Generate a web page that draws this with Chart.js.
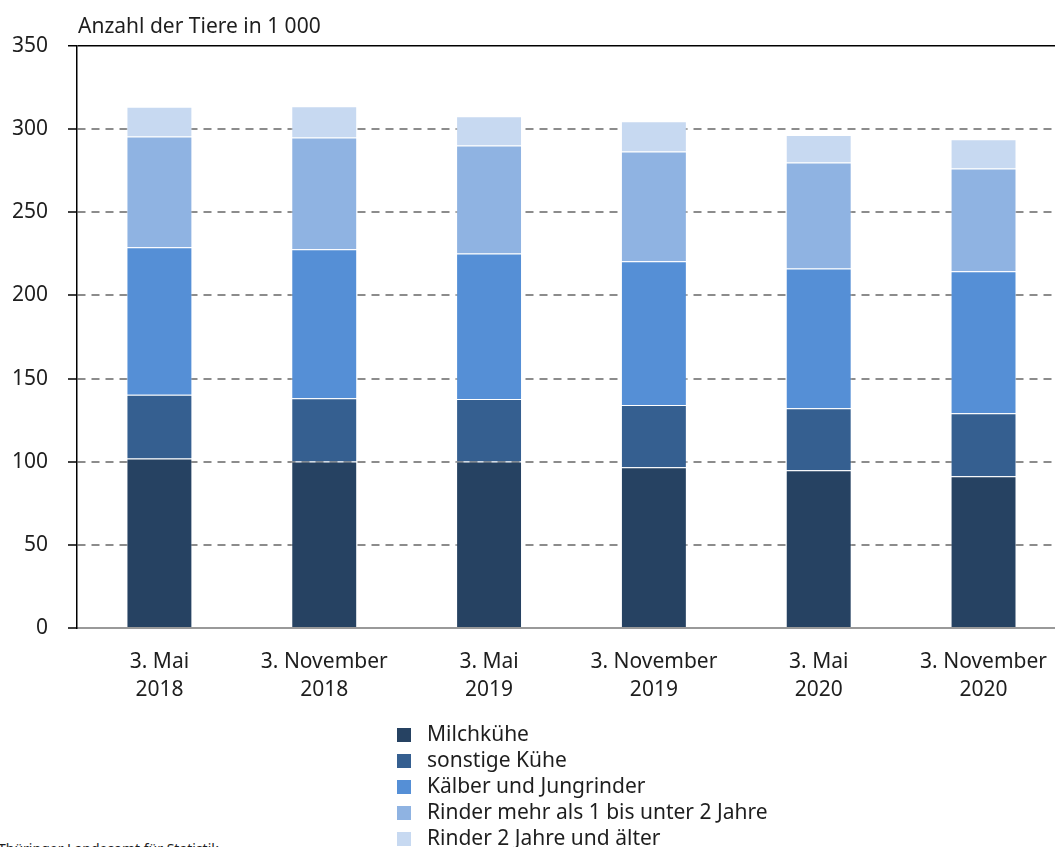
<!DOCTYPE html>
<html lang="de">
<head>
    <meta charset="UTF-8">
    <title>Rinderbestand</title>
    <script src="https://cdn.jsdelivr.net/npm/chart.js"></script>
    <style>
        body {
            margin: 0;
            width: 1055px;
            height: 847px;
            overflow: hidden;
            background: #fff;
            font-family: "Noto Sans", sans-serif;
            color: #1e1e1e;
            position: relative;
        }
        #chartBox {
            position: absolute;
            left: 0;
            top: 0;
            width: 1067px;
            height: 720px;
        }
        #legend {
            position: absolute;
            left: 397px;
            top: 720px;
            font-size: 21px;
        }
        .item {
            height: 26px;
            line-height: 26px;
            white-space: nowrap;
        }
        .box {
            display: inline-block;
            width: 14px;
            height: 14px;
            margin-right: 16px;
            vertical-align: -1px;
        }
        #source {
            position: absolute;
            left: -2px;
            top: 839px;
            font-size: 14px;
            white-space: nowrap;
        }
    </style>
</head>
<body>
    <div id="chartBox"><canvas id="chartCanvas"></canvas></div>
    <div id="legend"></div>
    <div id="source">Thüringer Landesamt für Statistik</div>

    <script>
        // Daten (in 1 000 Tieren)
        const categories = [
            ["3. Mai", "2018"], ["3. November", "2018"],
            ["3. Mai", "2019"], ["3. November", "2019"],
            ["3. Mai", "2020"], ["3. November", "2020"]
        ];
        const seriesNames = [
            "Milchkühe",
            "sonstige Kühe",
            "Kälber und Jungrinder",
            "Rinder mehr als 1 bis unter 2 Jahre",
            "Rinder 2 Jahre und älter"
        ];
        const milchkuehe = [102, 100.2, 100.2, 96.6, 94.8, 91.2];
        const sonstigeKuehe = [38.3, 38, 37.5, 37.5, 37.4, 38];
        const kaelber = [88.7, 89.5, 87.5, 86.4, 84, 85.3];
        const rinder1bis2 = [66.6, 67.2, 65, 66, 63.7, 61.8];
        const rinder2 = [17.8, 18.8, 17.5, 18.2, 16.6, 17.6];
        const yTicks = [0, 50, 100, 150, 200, 250, 300, 350];

        const seriesData = [milchkuehe, sonstigeKuehe, kaelber, rinder1bis2, rinder2];
        const colors = ["#264262", "#355f90", "#558fd6", "#8fb3e2", "#c7d9f1"];

        const textColor = "#1e1e1e";
        const font = { family: "Noto Sans", size: 21 };

        // Achsentitel oben links
        const titlePlugin = {
            id: "axisTitle",
            afterDraw(chart) {
                const ctx = chart.ctx;
                ctx.save();
                ctx.font = "21px 'Noto Sans'";
                ctx.fillStyle = textColor;
                ctx.textBaseline = "middle";
                ctx.fillText("Anzahl der Tiere in 1 000", chart.chartArea.left + 1, 27);
                ctx.restore();
            }
        };

        const ctx = document.getElementById("chartCanvas").getContext("2d");
        new Chart(ctx, {
            type: "bar",
            data: {
                labels: categories,
                datasets: seriesData.map((d, i) => ({
                    label: seriesNames[i],
                    data: d,
                    backgroundColor: colors[i],
                    borderColor: "rgba(255,255,255,0.35)",
                    borderWidth: 1,
                    categoryPercentage: 1,
                    barPercentage: 0.4
                }))
            },
            options: {
                responsive: true,
                maintainAspectRatio: false,
                animation: false,
                layout: { padding: { top: 46, left: 0, right: 0, bottom: 0 } },
                plugins: {
                    legend: { display: false },
                    tooltip: { enabled: false }
                },
                scales: {
                    x: {
                        stacked: true,
                        afterFit(scale) { scale.height = 92; },
                        grid: { display: false, drawTicks: false },
                        border: { display: true, color: "#999999", width: 2 },
                        ticks: { color: textColor, font: { ...font, lineHeight: 1.33 }, padding: 20, maxRotation: 0 }
                    },
                    y: {
                        stacked: true,
                        min: 0,
                        max: 350,
                        afterFit(scale) { scale.width = 77; },
                        afterBuildTicks(scale) { scale.ticks = yTicks.map(v => ({ value: v })); },
                        grid: {
                            color: c => c.tick && c.tick.value === 350 ? "#000000" : "#8c8c8c",
                            lineWidth: c => c.tick && c.tick.value === 350 ? 1.5 : 2,
                            tickColor: "#000000",
                            tickWidth: 1.5,
                            tickLength: 9
                        },
                        border: {
                            display: true,
                            color: "#000000",
                            width: 1.5,
                            dash: c => c.tick && (c.tick.value === 350 || c.tick.value === 0) ? [] : [8, 6]
                        },
                        ticks: { color: textColor, font: font, padding: 20 }
                    }
                }
            },
            plugins: [titlePlugin]
        });

        // Legende
        const legend = document.getElementById("legend");
        seriesNames.forEach((name, i) => {
            legend.innerHTML += `<div class="item"><span class="box" style="background:${colors[i]}"></span>${name}</div>`;
        });
    </script>
</body>
</html>
